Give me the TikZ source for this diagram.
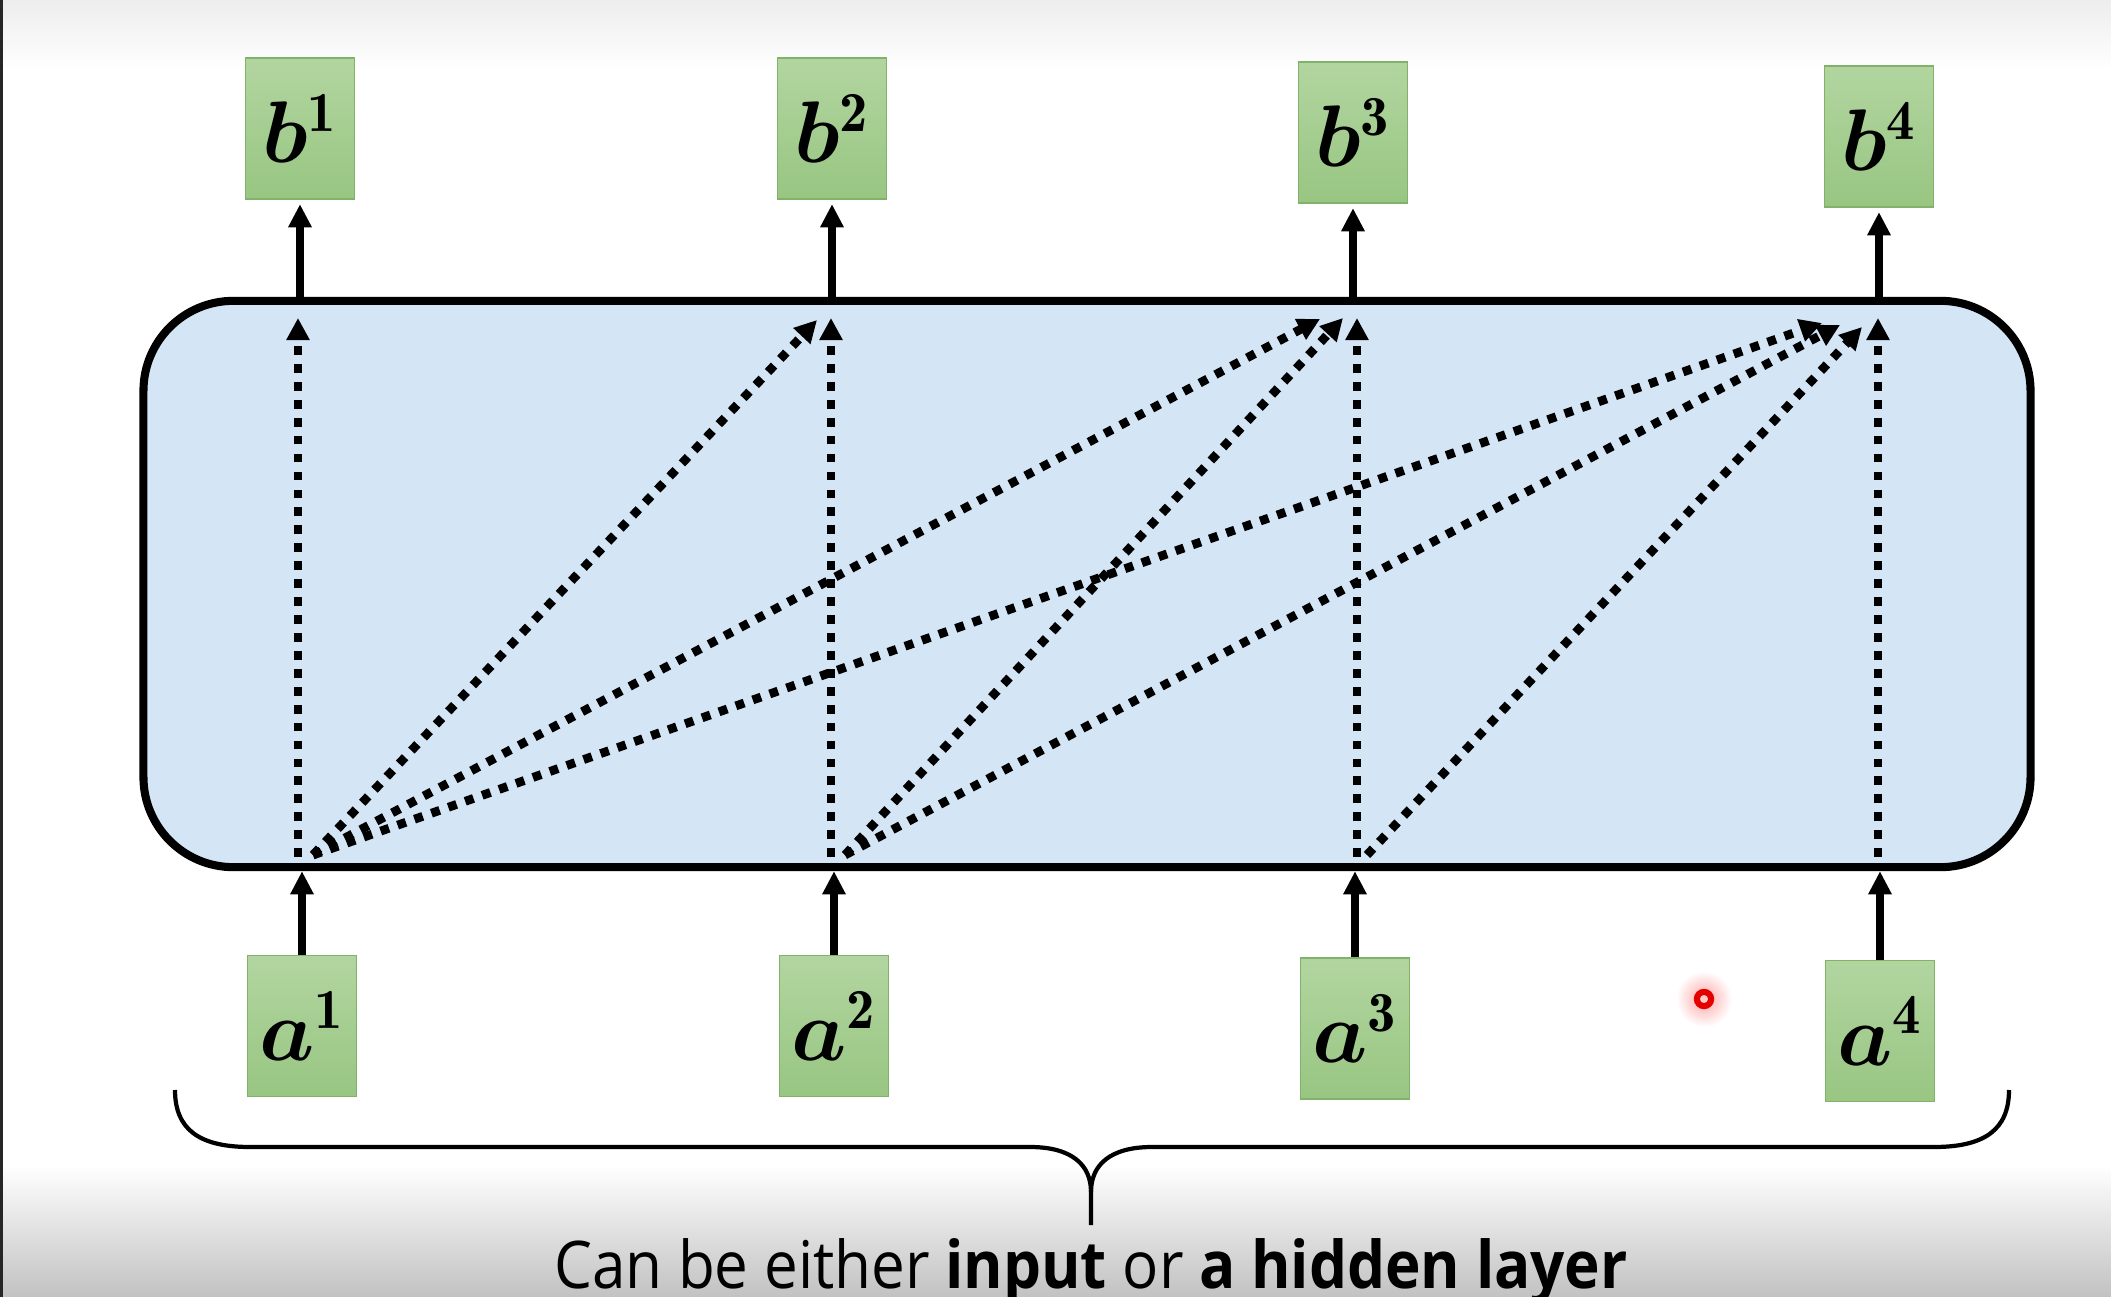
\documentclass[tikz,border=0pt]{standalone}
\usepackage{fontspec}
\setsansfont{Open Sans}
\usepackage{amsmath,bm}
\usetikzlibrary{arrows.meta}
\definecolor{boxfill}{RGB}{212,229,245}
\definecolor{greentop}{RGB}{178,213,160}
\definecolor{greenbot}{RGB}{152,198,130}
\definecolor{greenline}{RGB}{128,178,106}
\tikzset{
  tok/.style={draw=greenline, line width=0.5pt, top color=greentop, bottom color=greenbot,
    minimum width=1.09cm, minimum height=1.41cm, inner sep=0pt,
    font=\fontsize{23}{26}\selectfont},
  solidarrow/.style={line width=2pt, -{Triangle[length=6.6pt,width=6.3pt]}},
  dotarrow/.style={line width=2.5pt, dash pattern=on 2.5pt off 2.6pt,
    -{Triangle[length=6.3pt,width=6.3pt]}},
}
\begin{document}
\begin{tikzpicture}[x=0.01cm,y=-0.01cm]
\useasboundingbox (0,0) rectangle (2111,1297);
\fill[white] (0,0) rectangle (2111,1297);
\shade[top color=black!7, bottom color=white] (0,0) rectangle (2111,70);
\shade[top color=white, bottom color=black!24] (0,1165) rectangle (2111,1297);
\fill[black!85] (0,0) rectangle (3,1297);

% main layer box
\node[draw, line width=2.3pt, fill=boxfill, rounded corners=0.9cm,
      minimum width=18.86cm, minimum height=5.66cm] (layer) at (1087,584) {};

% tokens
\node[tok] (b1) at (300,128.5) {$\bm{b}^{\mathbf{1}}$};
\node[tok] (b2) at (832,128.5) {$\bm{b}^{\mathbf{2}}$};
\node[tok] (b3) at (1353,132.5) {$\bm{b}^{\mathbf{3}}$};
\node[tok] (b4) at (1879,136.5) {$\bm{b}^{\mathbf{4}}$};
\node[tok] (a1) at (302,1026) {$\bm{a}^{\mathbf{1}}$};
\node[tok] (a2) at (834,1026) {$\bm{a}^{\mathbf{2}}$};
\node[tok] (a3) at (1355,1028.5) {$\bm{a}^{\mathbf{3}}$};
\node[tok] (a4) at (1880,1031) {$\bm{a}^{\mathbf{4}}$};

% outputs and inputs
\foreach \i in {1,2,3,4}{
  \draw[solidarrow, shorten >=1.2pt] (b\i.south |- layer.north) -- (b\i.south);
  \draw[solidarrow] (a\i.north) -- (a\i.north |- layer.south);
}

% attention coordinates
\coordinate (s1) at (298,857);  \coordinate (d1) at (313,855);
\coordinate (s2) at (831,857);  \coordinate (d2) at (845,855);
\coordinate (s3) at (1357,857); \coordinate (d3) at (1367,855);
\coordinate (s4) at (1878,857);
\coordinate (t1) at (298,318);
\coordinate (t2) at (831,318);
\coordinate (t3) at (1357,318);
\coordinate (t4) at (1878,318);
\coordinate (e12) at (817,320);
\coordinate (e13) at (1320,319);
\coordinate (e23) at (1343,318);
\coordinate (e14) at (1822,323);
\coordinate (e24) at (1840,325);
\coordinate (e34) at (1862,327);

\draw[dotarrow] (s1) -- (t1);
\draw[dotarrow] (s2) -- (t2);
\draw[dotarrow] (s3) -- (t3);
\draw[dotarrow] (s4) -- (t4);
\draw[dotarrow] (d1) -- (e12);
\draw[dotarrow] (d1) -- (e13);
\draw[dotarrow] (d1) -- (e14);
\draw[dotarrow] (d2) -- (e23);
\draw[dotarrow] (d2) -- (e24);
\draw[dotarrow] (d3) -- (e34);

% brace
\draw[line width=1.2pt, line join=round]
  (175,1090) .. controls (175,1130) and (200,1147) .. (250,1147)
  -- (1030,1147) .. controls (1072,1147) and (1091,1165) .. (1091,1192)
  -- (1091,1225);
\draw[line width=1.2pt, line join=round]
  (2009,1090) .. controls (2009,1130) and (1984,1147) .. (1934,1147)
  -- (1152,1147) .. controls (1110,1147) and (1091,1165) .. (1091,1192);

% caption
\node[font=\sffamily\fontsize{18.7}{22}\selectfont, anchor=base, inner sep=0pt] (cap) at (1091,1288)
  {\scalebox{0.915}[1]{Can be either \textbf{input} or \textbf{a hidden layer}}};

% laser pointer dot
\shade[inner color=red!35, outer color=white] (1704,999) circle (0.28cm);
\draw[red!90!black, line width=1.8pt] (1704,999) circle (0.07cm);
\fill[red!20] (1704,999) circle (0.038cm);
\end{tikzpicture}
\end{document}
